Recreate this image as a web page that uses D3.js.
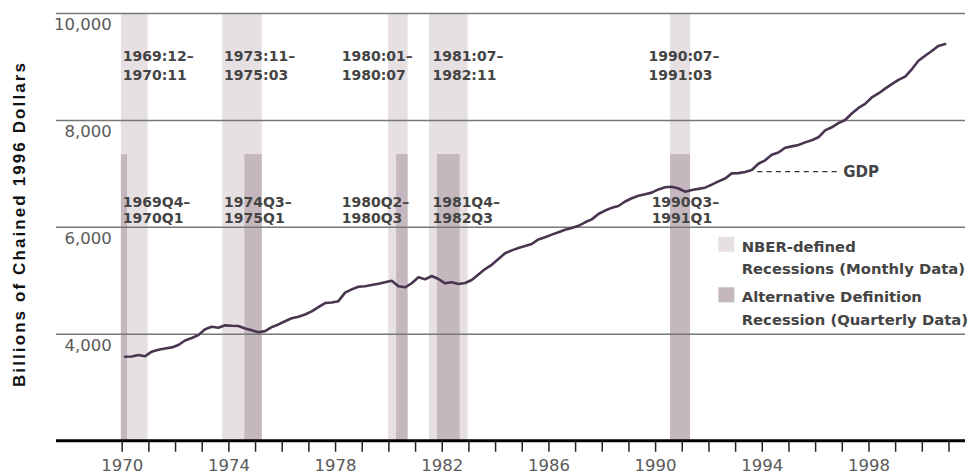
<!DOCTYPE html>
<html>
<head>
<meta charset="utf-8">
<script src="https://cdn.jsdelivr.net/npm/d3@7"></script>
<style>
  html, body { margin: 0; padding: 0; background: #fff; }
  svg { display: block; }
</style>
</head>
<body>
<svg id="chart" width="970" height="474"></svg>
<script>
// ---------------- DATA ----------------
const startYear = 1970;               // first quarter: 1970Q1
const gdp = [                          // Real GDP, billions of chained 1996 dollars, quarterly
  3571, 3574, 3603, 3580,   // 1970
  3665, 3700, 3725, 3745,   // 1971
  3790, 3875, 3920, 3975,   // 1972
  4084, 4130, 4114, 4158,   // 1973
  4150, 4146, 4100, 4065,   // 1974
  4028, 4050, 4125, 4175,   // 1975
  4235, 4290, 4320, 4360,   // 1976
  4420, 4500, 4575, 4585,   // 1977
  4610, 4770, 4830, 4880,   // 1978
  4890, 4912, 4935, 4965,   // 1979
  4993, 4888, 4870, 4945,   // 1980
  5056, 5019, 5081, 5025,   // 1981
  4944, 4965, 4932, 4950,   // 1982
  5005, 5110, 5210, 5290,   // 1983
  5400, 5505, 5560, 5605,   // 1984
  5640, 5680, 5765, 5805,   // 1985
  5855, 5900, 5945, 5980,   // 1986
  6020, 6085, 6140, 6240,   // 1987
  6305, 6355, 6390, 6475,   // 1988
  6535, 6580, 6610, 6640,   // 1989
  6700, 6740, 6751, 6718,   // 1990
  6658, 6690, 6710, 6733,   // 1991
  6790, 6850, 6905, 7000,   // 1992
  7005, 7025, 7063, 7180,   // 1993
  7245, 7350, 7390, 7480,   // 1994
  7505, 7531, 7580, 7620,   // 1995
  7675, 7805, 7862, 7940,   // 1996
  7999, 8120, 8225, 8300,   // 1997
  8420, 8495, 8585, 8670,   // 1998
  8750, 8810, 8947, 9108,   // 1999
  9200, 9290, 9385, 9420    // 2000
];

// NBER-defined recessions (monthly data), as decimal years
const nberLabels1 = ["1969:12–", "1973:11–", "1980:01–", "1981:07–", "1990:07–"];
const nberLabels2 = ["1970:11", "1975:03", "1980:07", "1982:11", "1991:03"];
const nberStart   = [1969.97, 1973.77, 1979.99, 1981.52, 1990.56];
const nberEnd     = [1970.97, 1975.25, 1980.72, 1982.97, 1991.31];

// Alternative definition recessions (quarterly data)
const altLabels1 = ["1969Q4–", "1974Q3–", "1980Q2–", "1981Q4–", "1990Q3–"];
const altLabels2 = ["1970Q1", "1975Q1", "1980Q3", "1982Q3", "1991Q1"];
const altStart   = [1969.97, 1974.60, 1980.29, 1981.82, 1990.56];
const altEnd     = [1970.20, 1975.25, 1980.72, 1982.67, 1991.31];

const yTicks = [4000, 6000, 8000, 10000];
const xTickYears = d3.range(1970, 2002);
const xLabelYears = d3.range(1970, 2001, 4);

const yTitle = "Billions of Chained 1996 Dollars";
const legendLabels = [["NBER-defined", "Recessions (Monthly Data)"],
                      ["Alternative Definition", "Recession (Quarterly Data)"]];
const seriesName = "GDP";

// ---------------- LAYOUT / STYLE ----------------
const lightFill = "#e6e0e3";
const darkFill  = "#c4b8be";
const lineColor = "#4a3550";
const textColor = "#444";
const tickText  = "#5a5a5a";

// label anchors (in data units) — layout only
const topLabelX = [1970.04, 1973.84, 1978.25, 1981.65, 1989.75];
const botLabelX = [1970.04, 1973.84, 1978.25, 1981.65, 1989.87];
const darkTopValue = 7360;

const svg = d3.select("#chart");

const x = d3.scaleLinear().domain([1967.536, 2001.62]).range([56, 965]);
const y = d3.scaleLinear().domain([2000, 10000]).range([440.7, 13]);

// quarterly series placed at mid-quarter
const series = gdp.map((v, i) => ({ t: startYear + (i + 0.5) / 4, v }));

// ---- recession bands ----
const gBands = svg.append("g");
gBands.selectAll("rect.nber")
  .data(nberStart.map((s, i) => ({ s, e: nberEnd[i] })))
  .join("rect")
  .attr("class", "nber")
  .attr("x", d => x(d.s))
  .attr("width", d => x(d.e) - x(d.s))
  .attr("y", y(10000))
  .attr("height", y(2000) - y(10000))
  .attr("fill", lightFill);

gBands.selectAll("rect.alt")
  .data(altStart.map((s, i) => ({ s, e: altEnd[i] })))
  .join("rect")
  .attr("class", "alt")
  .attr("x", d => x(d.s))
  .attr("width", d => x(d.e) - x(d.s))
  .attr("y", y(darkTopValue))
  .attr("height", y(2000) - y(darkTopValue))
  .attr("fill", darkFill);

// ---- gridlines ----
const yAxis = d3.axisLeft(y).tickValues(yTicks).tickSize(-(965 - 56)).tickFormat("");
const gGrid = svg.append("g").attr("transform", "translate(56,0)").call(yAxis);
gGrid.select(".domain").remove();
gGrid.selectAll(".tick line").attr("stroke", "#777").attr("stroke-width", 1.5);

// y tick labels (below each gridline, right-aligned)
svg.append("g").selectAll("text")
  .data(yTicks)
  .join("text")
  .attr("x", 111.7)
  .attr("y", d => y(d) + 17.3)
  .attr("text-anchor", "end")
  .attr("font-family", "DejaVu Sans")
  .attr("font-size", 16.5)
  .attr("fill", tickText)
  .text(d3.format(","));

// ---- x axis ----
const xAxis = d3.axisBottom(x)
  .tickValues(xTickYears)
  .tickSize(11)
  .tickSizeOuter(0)
  .tickFormat(d => xLabelYears.includes(d) ? String(d) : "");
const gX = svg.append("g").attr("transform", `translate(0,${y(2000)})`).call(xAxis);
gX.select(".domain").attr("stroke", "#000").attr("stroke-width", 3)
  .attr("d", `M56,0H965`);
gX.selectAll(".tick line").attr("stroke", "#222").attr("stroke-width", 1.5);
gX.selectAll(".tick text")
  .attr("font-family", "DejaVu Sans")
  .attr("font-size", 16.5)
  .attr("fill", tickText)
  .attr("y", 19)
  .attr("dy", "0.71em");

// ---- GDP line ----
const line = d3.line().x(d => x(d.t)).y(d => y(d.v));
svg.append("path")
  .datum(series)
  .attr("d", line)
  .attr("fill", "none")
  .attr("stroke", lineColor)
  .attr("stroke-width", 2.6)
  .attr("stroke-linejoin", "round")
  .attr("stroke-linecap", "round");

// ---- band labels ----
const labelFont = { family: "DejaVu Sans", size: 14, weight: "bold" };
function twoLine(g, xs, l1, l2, b1, b2) {
  g.selectAll("text.l1").data(l1).join("text").attr("class", "l1")
    .attr("x", (d, i) => x(xs[i])).attr("y", b1).text(d => d);
  g.selectAll("text.l2").data(l2).join("text").attr("class", "l2")
    .attr("x", (d, i) => x(xs[i])).attr("y", b2).text(d => d);
  g.selectAll("text")
    .attr("font-family", labelFont.family)
    .attr("font-size", labelFont.size)
    .attr("font-weight", labelFont.weight)
    .attr("fill", textColor);
}
twoLine(svg.append("g"), topLabelX, nberLabels1, nberLabels2, 61, 80);
twoLine(svg.append("g"), botLabelX, altLabels1, altLabels2, 207, 223);

// ---- GDP series label ----
svg.append("line")
  .attr("x1", 757.3).attr("x2", 838.3)
  .attr("y1", 171.7).attr("y2", 171.7)
  .attr("stroke", "#333").attr("stroke-width", 1.2)
  .attr("stroke-dasharray", "5,4.3");
svg.append("text")
  .attr("x", 843.3).attr("y", 176.8)
  .attr("font-family", "DejaVu Sans").attr("font-size", 15).attr("font-weight", "bold")
  .attr("fill", textColor)
  .text(seriesName);

// ---- legend ----
const legend = svg.append("g");
const legendTops = [236.7, 287.3];
const legendFills = [lightFill, darkFill];
legendLabels.forEach((lines, i) => {
  legend.append("rect")
    .attr("x", 718.3).attr("y", legendTops[i])
    .attr("width", 16).attr("height", 15)
    .attr("fill", legendFills[i]);
  lines.forEach((t, j) => {
    legend.append("text")
      .attr("x", 741.7).attr("y", legendTops[i] + 15 + j * 22.7)
      .attr("font-family", "DejaVu Sans").attr("font-size", 14.8).attr("font-weight", "bold")
      .attr("fill", textColor)
      .text(t);
  });
});

// ---- y axis title ----
svg.append("text")
  .attr("transform", "translate(24.5,224) rotate(-90)")
  .attr("text-anchor", "middle")
  .attr("font-family", "Liberation Sans")
  .attr("font-size", 17)
  .attr("font-weight", "bold")
  .attr("letter-spacing", "2.1px")
  .attr("fill", "#111")
  .text(yTitle);
</script>
</body>
</html>
